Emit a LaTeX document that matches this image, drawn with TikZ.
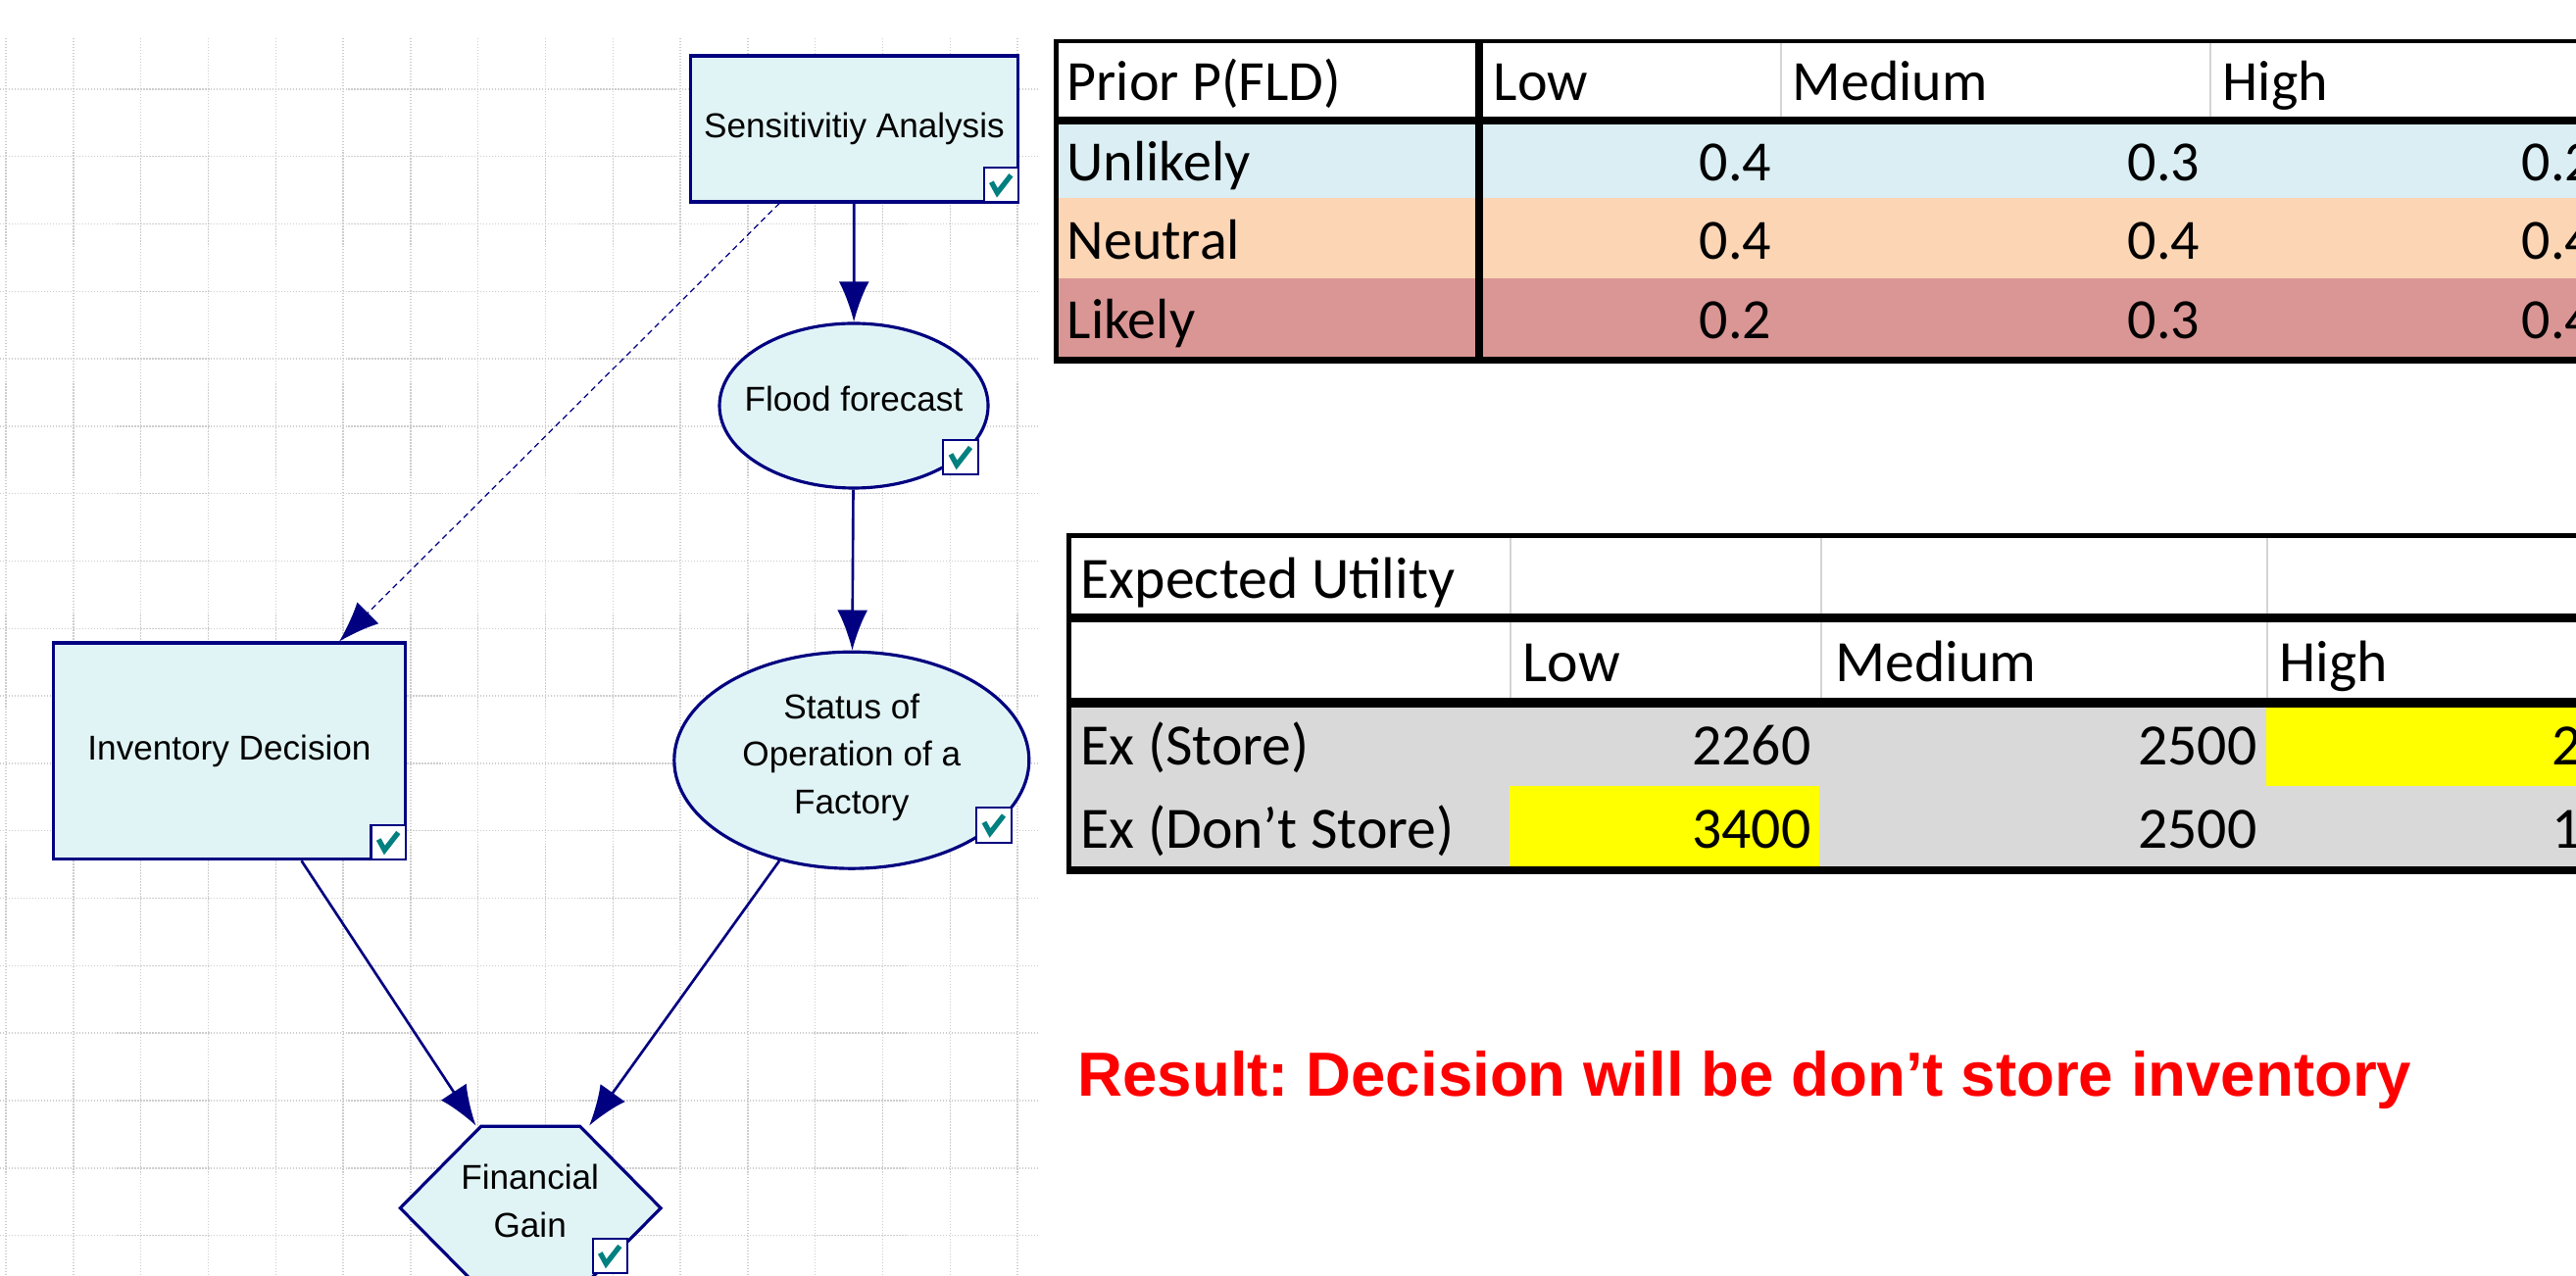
\documentclass[tikz,border=0pt]{standalone}
\usepackage{fontspec}
\setmainfont{Liberation Sans}
\newfontfamily\sheetfont{Carlito}
\usetikzlibrary{arrows.meta,shapes.geometric}
\frenchspacing

\definecolor{netnavy}{RGB}{0,0,128}
\definecolor{netfill}{RGB}{225,244,245}
\definecolor{nettick}{RGB}{0,128,128}
\definecolor{gridgray}{RGB}{205,205,205}
\definecolor{rowblue}{RGB}{218,238,243}
\definecolor{rowpeach}{RGB}{252,213,180}
\definecolor{rowrose}{RGB}{218,150,148}
\definecolor{rowgray}{RGB}{217,217,217}
\definecolor{sepgray}{RGB}{212,212,212}
\definecolor{cellyellow}{RGB}{255,255,0}

\begin{document}
\begin{tikzpicture}[x=0.1mm, y=-0.1mm,
    gridline/.style={gridgray, line width=0.4pt, dash pattern=on 0.4pt off 0.45pt},
    nodeline/.style={draw=netnavy, line width=0.9pt, fill=netfill},
    nodetext/.style={font=\fontsize{10}{13.8}\selectfont, align=center, inner sep=0pt},
    decision/.style={nodeline, nodetext, rectangle},
    chance/.style={nodeline, ellipse, inner sep=0pt},
    tickbox/.style={draw=netnavy, line width=0.6pt, fill=white, minimum size=3.55mm, inner sep=0pt,
      path picture={\draw[nettick, line width=1.5pt, line join=miter]
        ([shift={(-10,-3)}]path picture bounding box.center) --
        ([shift={(-4,8)}]path picture bounding box.center) --
        ([shift={(10,-10)}]path picture bounding box.center);}},
    link/.style={netnavy, line width=0.75pt, -{Latex[length=11.7pt, width=8.8pt]}},
    cell/.style={font=\sheetfont\fontsize{16.5}{19}\selectfont, inner sep=0pt},
    cellb/.style={font=\sheetfont\fontsize{17}{20}\selectfont, inner sep=0pt}
  ]
    \useasboundingbox (0,0) rectangle (2628,1302);
    \clip (0,0) rectangle (2628,1302);
    \fill[white] (0,0) rectangle (2628,1302);

    % background grid of the model window
    \foreach \i in {0,...,15}
      \draw[gridline] (6+68.8*\i,39) -- (6+68.8*\i,1302);
    \foreach \j in {0,...,17}
      \draw[gridline] (0,91+68.8*\j) -- (1058,91+68.8*\j);

    % influence diagram
    \node[decision, minimum width=33.44mm, minimum height=14.9mm] (sa) at (871.4,131.5) {Sensitivitiy Analysis};
    \node[chance, minimum width=27.4mm, minimum height=16.8mm,
      label={[nodetext, yshift=2pt]center:Flood forecast}] (ff) at (871,414) {};
    \node[chance, minimum width=36.2mm, minimum height=22.1mm,
      label={[nodetext, yshift=0.8pt]center:{Status of\\Operation of a\\Factory}}] (st) at (868.8,775.7) {};
    \node[decision, minimum width=35.9mm, minimum height=22.07mm] (inv) at (234,766.4) {Inventory Decision};

    \coordinate (fgc) at (540.7,1232.7);
    \filldraw[nodeline] (fgc) ++(-132.4,0) -- ++(82.4,-83.4) -- ++(101,0) -- ++(82.4,83.4)
      -- ++(-82.4,83.4) -- ++(-101,0) -- cycle;
    \node[nodetext, minimum width=26.5mm, minimum height=16.68mm,
      label={[nodetext, yshift=2pt]center:{Financial\\Gain}}] (fg) at (fgc) {};

    \node[tickbox, anchor=south east] (satick) at (sa.south east) {};
    \node[tickbox] (fftick) at ([shift={(109,52.5)}]ff.center) {};
    \node[tickbox] (sttick) at ([shift={(145.2,66.3)}]st.center) {};
    \node[tickbox, anchor=south east] (invtick) at (inv.south east) {};
    \node[tickbox] (fgtick) at ([shift={(81.6,48.8)}]fgc) {};

    \draw[link] (sa) -- (ff);
    \draw[link] (ff) -- (st);
    \draw[link, line width=0.35pt, dash pattern=on 1.7pt off 1.2pt] (sa) -- (inv);
    \draw[link] (inv) -- (fg);
    \draw[link] (st) -- (fg);

    % prior table
    \fill[rowblue] (1080,127) rectangle (2628,201.7);
    \fill[rowpeach] (1080,201.7) rectangle (2628,284.4);
    \fill[rowrose] (1080,284.4) rectangle (2628,363.7);
    \draw[sepgray, line width=0.5pt] (1817,44.4) -- (1817,118.6) (2255,44.4) -- (2255,118.6);
    \fill (1075,39.7) rectangle (2628,44.4);
    \fill (1075,118.6) rectangle (2628,127);
    \fill (1075,363.7) rectangle (2628,371.4);
    \fill (1075,39.7) rectangle (1080,371.4);
    \fill (1505,39.7) rectangle (1513,371.4);

    \node[cell, anchor=base west] (prior) at (1088,102.5) {Prior P(FLD)};
    \foreach \lvl/\x [count=\c] in {Low/1523, Medium/1828, High/2267}
      \node[cell, anchor=base west] (ph\c) at (\x,102.5) {\lvl};
    \foreach \lbl/\y/\vl/\vm/\vh [count=\r] in {Unlikely/185/0.4/0.3/0.2, Neutral/264.5/0.4/0.4/0.4, Likely/346/0.2/0.3/0.4} {
      \node[cell, anchor=base west] (pl\r) at (1088,\y) {\lbl};
      \node[cell, anchor=base east] (pa\r) at (1808,\y) {\vl};
      \node[cell, anchor=base east] (pb\r) at (2245,\y) {\vm};
      \node[cell, anchor=base west] (pc\r) at (2572,\y) {\vh};
    }

    % expected utility table
    \fill[rowgray] (1093,721.6) rectangle (2628,883.6);
    \fill[cellyellow] (2312,721.6) rectangle (2628,802.3);
    \fill[cellyellow] (1540,802.3) rectangle (1856,883.6);
    \foreach \x in {1541,1858,2313}
      \draw[sepgray, line width=0.5pt] (\x,549.2) -- (\x,712.5);
    \fill (1088,544.2) rectangle (2628,549.2);
    \fill (1088,625.8) rectangle (2628,635);
    \fill (1088,712.5) rectangle (2628,721.6);
    \fill (1088,883.6) rectangle (2628,892.3);
    \fill (1088,544.2) rectangle (1093,892.3);

    \node[cellb, anchor=base west] (eu) at (1102,610.7) {Expected Utility};
    \foreach \lvl/\x [count=\c] in {Low/1553, Medium/1872, High/2325}
      \node[cellb, anchor=base west] (eh\c) at (\x,695.4) {\lvl};
    \foreach \lbl/\y/\vl/\vm/\vh [count=\r] in {Ex (Store)/780.4/2260/2500/2, Ex (Don’t Store)/866/3400/2500/1} {
      \node[cellb, anchor=base west] (el\r) at (1102,\y) {\lbl};
      \node[cellb, anchor=base east] (ea\r) at (1848,\y) {\vl};
      \node[cellb, anchor=base east] (eb\r) at (2303,\y) {\vm};
      \node[cellb, anchor=base west] (ec\r) at (2603,\y) {\vh};
    }

    \node[font=\bfseries\fontsize{18.1}{22}\selectfont, text=red, anchor=base west, inner sep=0pt]
      (result) at (1098.75,1118) {Result: Decision will be don’t store inventory};
\end{tikzpicture}
\end{document}
